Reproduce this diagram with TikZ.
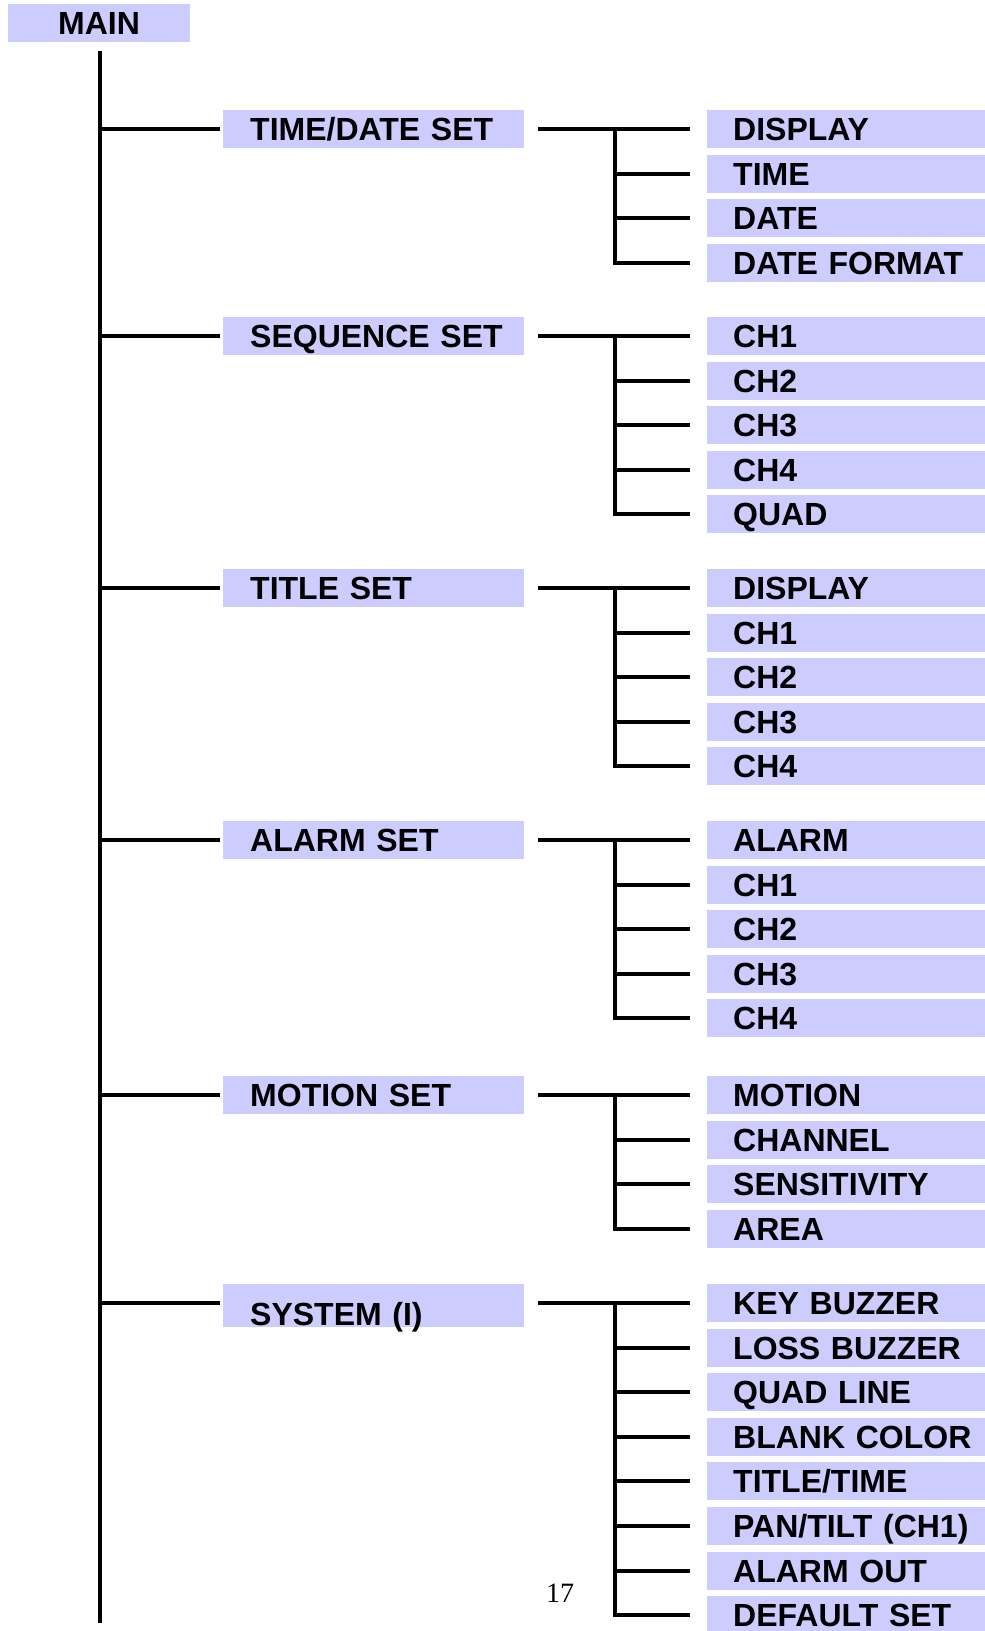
\documentclass[tikz,border=0pt]{standalone}
\usepackage{fontspec}
\setmainfont{Liberation Sans}
\newfontfamily\pagefont{Liberation Serif}
\usepackage{tikz}
\definecolor{menublue}{RGB}{204, 204, 255}

\begin{document}
\begin{tikzpicture}[x=1pt, y=-1pt,
    menufont/.style={font=\fontsize{32}{38}\selectfont\bfseries},
    topbox/.style={menufont, fill=menublue, inner sep=0pt, minimum width=182pt, minimum height=38pt, text height=23pt, text depth=0pt},
    groupbox/.style={menufont, fill=menublue, anchor=west, inner sep=0pt, text width=301pt, align=left, minimum height=38pt, text height=23pt, text depth=0pt, execute at begin node={\hspace*{27pt}}},
    itembox/.style={menufont, fill=menublue, anchor=west, inner sep=0pt, text width=278pt, align=left, minimum height=38pt, text height=23pt, text depth=0pt, execute at begin node={\hspace*{26pt}}},
    branch/.style={line width=4pt, black}]
    \useasboundingbox (0,0) rectangle (985,1631);

    % 主干
    \node[topbox] (main) at (99, 23) {MAIN};
    \coordinate (trunk) at (100, 1623);
    \coordinate (fork) at (615, 0);
    \draw[branch, shorten <=9pt] (trunk |- main.south) -- (trunk);

    % TIME/DATE SET
    \node[groupbox] (timedate) at (223, 129) {TIME/DATE SET};
    \foreach \lbl [count=\i] in {DISPLAY, TIME, DATE, DATE FORMAT}
        \node[itembox] (timedate-\i) at (707, {round(129+44.6*(\i-1))}) {\lbl};
    \draw[branch, shorten >=3pt] (trunk |- timedate-1.west) -- (timedate.west |- timedate-1.west);
    \draw[branch, shorten <=14pt, shorten >=17pt] (timedate.east |- timedate-1.west) -- (timedate-1.west);
    \draw[branch, shorten >=17pt] (fork |- timedate-1.west) |- (timedate-4.west);
    \foreach \i in {2,3}
        \draw[branch, shorten >=17pt] (fork |- timedate-\i.west) -- (timedate-\i.west);

    % SEQUENCE SET
    \node[groupbox] (sequence) at (223, 336) {SEQUENCE SET};
    \foreach \lbl [count=\i] in {CH1, CH2, CH3, CH4, QUAD}
        \node[itembox] (sequence-\i) at (707, {round(336+44.6*(\i-1))}) {\lbl};
    \draw[branch, shorten >=3pt] (trunk |- sequence-1.west) -- (sequence.west |- sequence-1.west);
    \draw[branch, shorten <=14pt, shorten >=17pt] (sequence.east |- sequence-1.west) -- (sequence-1.west);
    \draw[branch, shorten >=17pt] (fork |- sequence-1.west) |- (sequence-5.west);
    \foreach \i in {2,...,4}
        \draw[branch, shorten >=17pt] (fork |- sequence-\i.west) -- (sequence-\i.west);

    % TITLE SET
    \node[groupbox] (title) at (223, 588) {TITLE SET};
    \foreach \lbl [count=\i] in {DISPLAY, CH1, CH2, CH3, CH4}
        \node[itembox] (title-\i) at (707, {round(588+44.6*(\i-1))}) {\lbl};
    \draw[branch, shorten >=3pt] (trunk |- title-1.west) -- (title.west |- title-1.west);
    \draw[branch, shorten <=14pt, shorten >=17pt] (title.east |- title-1.west) -- (title-1.west);
    \draw[branch, shorten >=17pt] (fork |- title-1.west) |- (title-5.west);
    \foreach \i in {2,...,4}
        \draw[branch, shorten >=17pt] (fork |- title-\i.west) -- (title-\i.west);

    % ALARM SET
    \node[groupbox] (alarm) at (223, 840) {ALARM SET};
    \foreach \lbl [count=\i] in {ALARM, CH1, CH2, CH3, CH4}
        \node[itembox] (alarm-\i) at (707, {round(840+44.6*(\i-1))}) {\lbl};
    \draw[branch, shorten >=3pt] (trunk |- alarm-1.west) -- (alarm.west |- alarm-1.west);
    \draw[branch, shorten <=14pt, shorten >=17pt] (alarm.east |- alarm-1.west) -- (alarm-1.west);
    \draw[branch, shorten >=17pt] (fork |- alarm-1.west) |- (alarm-5.west);
    \foreach \i in {2,...,4}
        \draw[branch, shorten >=17pt] (fork |- alarm-\i.west) -- (alarm-\i.west);

    % MOTION SET
    \node[groupbox] (motion) at (223, 1095) {MOTION SET};
    \foreach \lbl [count=\i] in {MOTION, CHANNEL, SENSITIVITY, AREA}
        \node[itembox] (motion-\i) at (707, {round(1095+44.6*(\i-1))}) {\lbl};
    \draw[branch, shorten >=3pt] (trunk |- motion-1.west) -- (motion.west |- motion-1.west);
    \draw[branch, shorten <=14pt, shorten >=17pt] (motion.east |- motion-1.west) -- (motion-1.west);
    \draw[branch, shorten >=17pt] (fork |- motion-1.west) |- (motion-4.west);
    \foreach \i in {2,3}
        \draw[branch, shorten >=17pt] (fork |- motion-\i.west) -- (motion-\i.west);

    % SYSTEM (I)
    \node[groupbox, minimum height=43pt, text height=40pt] (system) at (223, 1305.5) {SYSTEM (I)};
    \foreach \lbl [count=\i] in {KEY BUZZER, LOSS BUZZER, QUAD LINE, BLANK COLOR, {TITLE/TIME}, {PAN/TILT (CH1)}, ALARM OUT, DEFAULT SET}
        \node[itembox] (system-\i) at (707, {round(1303+44.6*(\i-1))}) {\lbl};
    \draw[branch, shorten >=3pt] (trunk |- system-1.west) -- (system.west |- system-1.west);
    \draw[branch, shorten <=14pt, shorten >=17pt] (system.east |- system-1.west) -- (system-1.west);
    \draw[branch, shorten >=17pt] (fork |- system-1.west) |- (system-8.west);
    \foreach \i in {2,...,7}
        \draw[branch, shorten >=17pt] (fork |- system-\i.west) -- (system-\i.west);

    % 页码
    \node[font=\pagefont\fontsize{28}{30}\selectfont] (pagenum) at (560, 1593) {17};
\end{tikzpicture}
\end{document}
